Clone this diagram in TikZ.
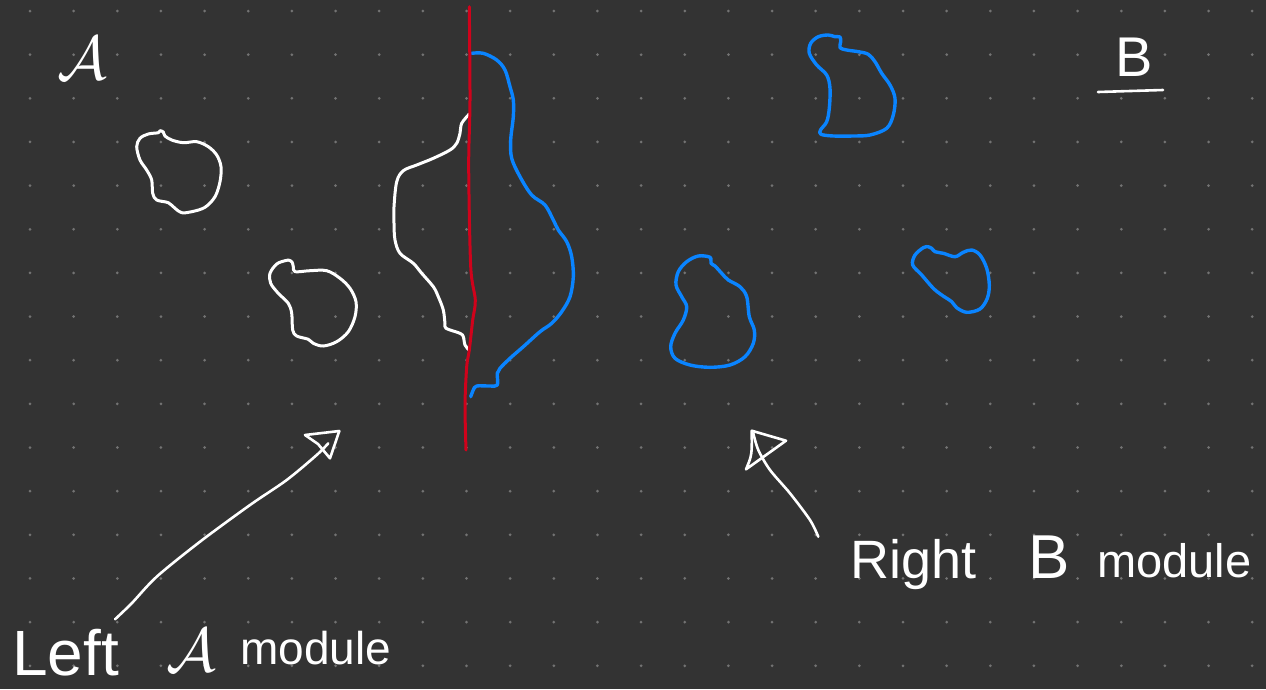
\documentclass[tikz,border=0pt]{standalone}
\usepackage{fontspec}
\setmainfont{Liberation Sans}
\definecolor{bg}{HTML}{333333}
\definecolor{dotc}{HTML}{737373}
\definecolor{skblue}{HTML}{0A84FF}
\definecolor{skred}{HTML}{D0021B}
\tikzset{
  wstroke/.style={draw=white, line width=3pt},
  bstroke/.style={draw=skblue, line width=3.4pt},
  rstroke/.style={draw=skred, line width=3pt},
  txt/.style={text=white, inner sep=0pt, anchor=base west},
}
\begin{document}
\begin{tikzpicture}[x=1pt,y=-1pt,line cap=round,line join=round]
\fill[bg] (0,0) rectangle (1266,689);
\useasboundingbox (0,0) rectangle (1266,689);
% dot grid
\foreach \i in {0,...,28}{
  \foreach \j in {0,...,15}{
    \fill[dotc] ({30+43.65*\i},{11+43.65*\j}) circle[radius=1.5pt];
  }
}
% white blobs (A side)
\draw[wstroke] plot[smooth cycle, tension=0.55] coordinates {
 (160,130.7) (163.3,132) (165,136) (171.7,140) (183.3,142.7) (196.7,141.7) (208.3,146.7) (216.7,155) (221,166.7) (220,181.7) (215,196.7) (205,207.3) (191.7,211.7) (181.7,212.7) (175,208.3) (168.3,202.7) (156.7,200) (152.7,193.3) (151.7,180) (146.7,170) (140,160) (136.7,146.7) (140,138.3) (148.3,134) (158.3,132.7)};
\draw[wstroke] plot[smooth cycle, tension=0.55] coordinates {
 (288.3,260) (292,262) (293.3,266.7) (295,271.7) (310,270.7) (326.7,270.7) (340,278.3) (350,288.3) (356,301.7) (355,316.7) (348.3,331.7) (336.7,341.7) (323.3,346) (313.3,343.3) (308.3,339.3) (296.7,336) (292.7,330) (291.7,313.3) (288.3,303.3) (278.3,293.3) (270.7,283.3) (270,273.3) (276.7,264) (285,260.7)};
\draw[wstroke] plot[smooth, tension=0.55] coordinates {
 (469.3,114) (461.7,123.3) (460,133.3) (456.7,143.3) (450,150) (433.3,158.3) (416.7,165) (403.3,170.7) (396.7,181.7) (394,206.7) (394,223.3) (395,240) (400,253.3) (413.3,263.3) (421.7,273.3) (433.3,286.7) (438.3,296.7) (443.3,310) (445,323.3) (446,328.3) (460,333.3) (463.3,336.7) (465,345) (469,350)};
% blue blobs (B side)
\draw[bstroke] plot[smooth cycle, tension=0.55] coordinates {
 (835,36.7) (840,37) (840.7,41.7) (840,47.7) (846.7,50) (858.3,51.7) (868.3,54.3) (875,61.7) (881.7,73.3) (890,85) (895,98.3) (893.3,115) (886.7,128.3) (870,135) (853.3,136) (833.3,136) (821,134.3) (820.5,130) (826.7,121.7) (829.3,108.3) (830,88.3) (826.7,75) (816.7,65) (809.3,53.3) (810.7,43.3) (818.3,36.7) (828.3,35)};
\draw[bstroke] plot[smooth cycle, tension=0.55] coordinates {
 (710,257.3) (711,263.3) (715,266) (721.7,273.3) (728.3,280) (740,286.7) (746.7,296.7) (749.3,316.7) (754.3,330) (753.3,343.3) (745,356.7) (730,365) (710,367.3) (690,365) (675,358.3) (670.7,346.7) (675,333.3) (683.3,320) (686.7,306.7) (681.7,296.7) (676,285) (678.3,271.7) (686.7,261.7) (698.3,256)};
\draw[bstroke] plot[smooth cycle, tension=0.55] coordinates {
 (928.3,246.7) (931.7,248.3) (935,251.7) (943.3,253.3) (955,256.7) (963.3,252.3) (971.7,250) (980,255) (986.7,268.3) (989.3,285) (987.3,298.3) (980,309) (966.7,312.3) (956.7,307.7) (951.7,301.7) (941.7,295) (933.3,288.3) (921.7,275) (912.7,265) (915,255) (923.3,247.7)};
\draw[bstroke] plot[smooth, tension=0.55] coordinates {
 (471.7,53.3) (483.3,53.3) (496.7,60) (505,70) (510,86.7) (513.3,100) (513.3,116.7) (510.7,140) (511.7,158.3) (520,176.7) (531.7,195) (545,205) (553.3,220) (558.3,230) (566.7,241.7) (571.7,256.7) (573.3,276.7) (570,296.7) (561.7,311.7) (551.7,323.3) (540,331.7) (523.3,346.7) (510,358.3) (500,368.3) (497.3,373.3) (497.3,385) (490,386) (476.7,386) (473.3,390) (470.7,396.7)};
% red dividing line
\draw[rstroke] plot[smooth, tension=0.5] coordinates {
 (469.3,6.7) (470,100) (468.7,166.7) (470.7,266.7) (475.3,300) (472.7,320) (469.3,350) (466.7,366.7) (465,405) (466,450)};
% arrows
\coordinate (a1tail) at (115,619.3);
\coordinate (a1tip) at (328.3,443.3);
\draw[wstroke, line width=2.6pt] plot[smooth, tension=0.5] coordinates {
 (a1tail) (131.7,603.3) (156.7,576.7) (200,541.7) (250,505) (286.7,480) (316.7,455) (a1tip)};
\draw[wstroke, line width=2.6pt] (305,435) -- (339.3,431) -- (330,458.3) -- (318,444) -- cycle;
\coordinate (a2tail) at (818.3,536.7);
\coordinate (a2tip) at (753.3,433.3);
\draw[wstroke, line width=2.6pt] plot[smooth, tension=0.5] coordinates {
 (a2tail) (810,520) (790,493.3) (770,470) (758.3,450) (a2tip)};
\draw[wstroke, line width=2.6pt] (751.7,430.7) -- (786,440.7) -- (746,469.3) .. controls (752,455) .. cycle;
% labels
\node[txt] (topA) at (57,79) {\scalebox{6.2}{$\mathcal{A}$}};
\node[txt, font=\fontsize{56}{60}\selectfont] (topB) at (1115,76) {B};
\draw[wstroke, line width=2.6pt] (1098,92) -- (1163,90);
\node[txt, font=\fontsize{64}{68}\selectfont] (leftword) at (12,675) {Left};
\node[txt] (leftA) at (166,671) {\scalebox{6.2}{$\mathcal{A}$}};
\node[txt, font=\fontsize{46}{50}\selectfont] (leftmodule) at (240,664) {module};
\node[txt, font=\fontsize{54}{58}\selectfont] (rightword) at (850,578) {Right};
\node[txt, font=\fontsize{62}{66}\selectfont] (rightB) at (1028,578) {B};
\node[txt, font=\fontsize{47}{51}\selectfont] (rightmodule) at (1097,577) {module};
\end{tikzpicture}
\end{document}
